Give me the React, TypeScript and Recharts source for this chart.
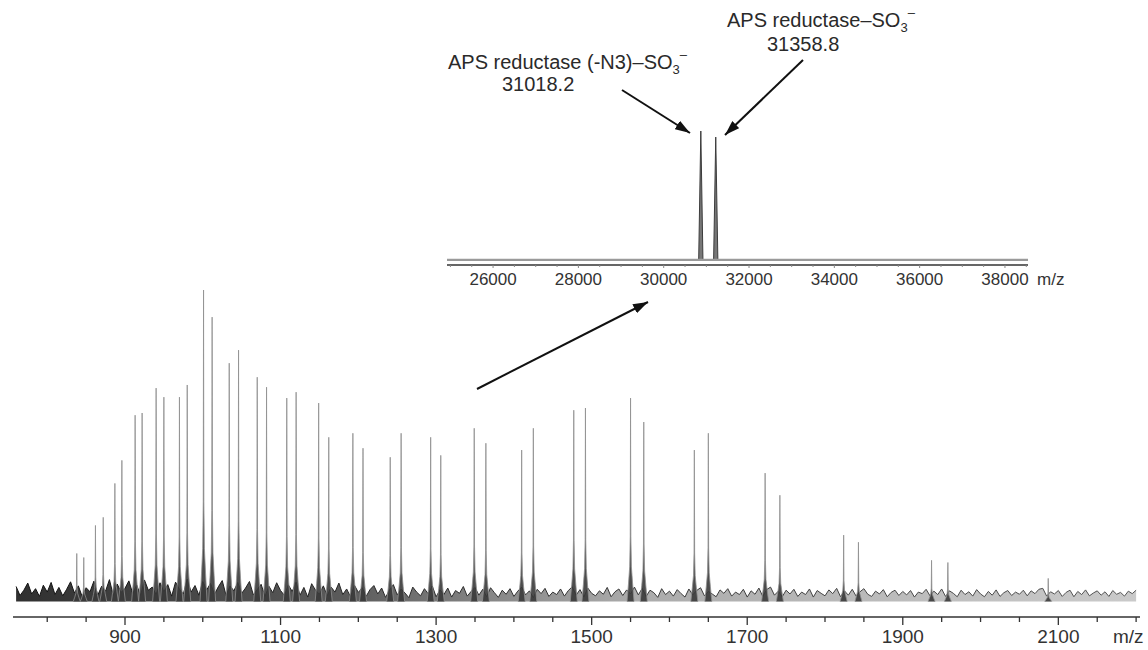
import React from 'react';
import { ComposedChart, Area, XAxis, YAxis, ReferenceLine } from 'recharts';

const font = '"Liberation Sans", Arial, sans-serif';

// ESI spectrum, baseline noise read every 5 m/z starting at 760
const noiseStart = 760;
const noiseStep = 5;
const noiseLevel = [
  4.8, 1.9, 3.6, 5.9, 2.4, 4.1, 1.6, 5.2, 3.0, 6.1,
  2.2, 4.5, 1.8, 3.9, 6.3, 2.7, 5.0, 1.5, 4.4, 3.1,
  6.5, 2.0, 4.9, 3.3, 7.0, 1.8, 5.6, 2.9, 4.2, 6.6,
  2.5, 5.3, 1.9, 6.9, 3.6, 4.6, 2.2, 6.0, 3.1, 5.4,
  1.7, 6.2, 3.9, 2.4, 7.2, 3.0, 5.1, 2.0, 6.4, 3.7,
  5.8, 2.3, 4.7, 6.7, 1.9, 5.0, 3.4, 6.1, 2.6, 4.3,
  6.4, 2.1, 3.8, 5.5, 1.6, 4.9, 2.8, 6.0, 3.5, 1.9,
  5.3, 3.2, 6.2, 2.0, 4.5, 1.4, 5.7, 3.6, 2.3, 5.0,
  1.8, 4.6, 3.0, 5.9, 2.2, 4.0, 1.5, 5.2, 2.9, 4.4,
  1.6, 3.8, 5.1, 2.4, 4.3, 1.3, 3.6, 5.4, 2.1, 4.0,
  2.7, 1.2, 4.6, 3.0, 1.8, 4.1, 2.4, 5.0, 1.5, 3.7,
  2.2, 4.3, 1.4, 3.5, 2.6, 4.8, 1.7, 3.2, 4.5, 2.0,
  3.9, 1.5, 4.4, 2.8, 1.3, 3.6, 2.3, 4.1, 1.6, 3.3,
  4.6, 2.1, 3.4, 1.2, 3.9, 2.5, 4.2, 1.6, 3.0, 2.2,
  4.0, 1.7, 3.5, 4.7, 2.0, 3.8, 1.4, 4.3, 2.6, 1.8,
  3.4, 2.3, 4.5, 1.5, 3.1, 4.0, 1.9, 3.7, 2.4, 4.6,
  2.1, 4.2, 1.6, 3.6, 2.8, 1.3, 4.1, 2.2, 3.3, 1.7,
  3.8, 2.5, 1.4, 4.0, 2.1, 3.5, 4.4, 1.8, 3.2, 2.4,
  1.5, 3.7, 2.6, 4.1, 1.7, 3.0, 2.2, 3.9, 1.4, 3.4,
  2.3, 4.3, 1.6, 3.8, 4.6, 2.0, 3.3, 1.5, 3.6, 2.4,
  3.9, 1.6, 3.0, 2.2, 4.0, 1.4, 3.5, 2.6, 1.8, 3.7,
  2.5, 4.2, 1.5, 3.4, 2.0, 3.9, 1.7, 3.1, 4.1, 2.3,
  1.6, 3.3, 2.4, 3.8, 1.5, 2.9, 3.6, 1.9, 3.2, 2.1,
  3.5, 1.4, 3.0, 2.5, 3.9, 1.8, 3.3, 2.2, 4.0, 1.6,
  3.4, 2.6, 1.5, 3.6, 2.2, 3.1, 1.7, 3.8, 2.4, 1.5,
  3.2, 2.0, 3.7, 1.6, 2.8, 3.5, 1.9, 3.0, 2.3, 3.6,
  1.8, 3.4, 2.5, 3.9, 4.2, 1.7, 3.1, 2.4, 3.5, 1.6,
  2.9, 3.6, 1.5, 3.2, 2.2, 3.7, 1.8, 2.7, 3.4, 2.0,
  3.1, 1.6, 3.5, 2.3, 2.9, 1.7, 3.3, 2.5, 3.6,
];

// charge-state peaks (m/z) and relative intensity (tallest = 100)
const peakMz = [
  838, 847, 862, 872, 887, 896, 913, 922, 940, 950,
  970, 980, 1001, 1012, 1034, 1046, 1070, 1082, 1108, 1120,
  1149, 1162, 1193, 1206, 1241, 1255, 1293, 1306, 1349, 1364,
  1410, 1425, 1477, 1492, 1550, 1567, 1632, 1650, 1723, 1742,
  1824, 1843, 1937, 1958, 2087,
];
const peakHeight = [
  15.4, 14.1, 24.4, 27, 37.9, 45.3, 59.8, 60.5, 68.5, 65.6,
  65.6, 69.5, 100, 91.3, 76.5, 80.7, 72, 68.8, 65.3, 67.2,
  63.7, 52.7, 54, 49.2, 46.3, 54, 52.7, 46.9, 55.6, 50.8,
  48.6, 55.6, 61.4, 62.1, 65.3, 57.6, 48.6, 54, 41.2, 34.1,
  21.3, 19, 13.2, 12.5, 7.4,
];

const mainTicks = [
  800, 850, 900, 950, 1000, 1050, 1100, 1150, 1200, 1250, 1300, 1350, 1400, 1450, 1500,
  1550, 1600, 1650, 1700, 1750, 1800, 1850, 1900, 1950, 2000, 2050, 2100, 2150, 2200,
];
const mainLabels = [900, 1100, 1300, 1500, 1700, 1900, 2100];

// deconvoluted inset
const insetMass = [30870, 31220];
const insetHeight = [100, 95.3];
const insetTicks = [
  25000, 25500, 26000, 26500, 27000, 27500, 28000, 28500, 29000, 29500, 30000, 30500, 31000, 31500,
  32000, 32500, 33000, 33500, 34000, 34500, 35000, 35500, 36000, 36500, 37000, 37500, 38000, 38500,
];
const insetLabels = [26000, 28000, 30000, 32000, 34000, 36000, 38000];

const noiseData = noiseLevel.map((v, i) => ({ mz: noiseStart + i * noiseStep, v }));

// each peak: narrow spike on a broader, darker foot
const peakData = peakMz.flatMap((m, i) => {
  const h = peakHeight[i];
  return [
    { mz: m - 4.5, v: 0 },
    { mz: m - 2.6, v: h * 0.09 },
    { mz: m - 1.1, v: h * 0.17 },
    { mz: m - 0.4, v: h * 0.32 },
    { mz: m, v: h },
    { mz: m + 0.4, v: h * 0.32 },
    { mz: m + 1.1, v: h * 0.17 },
    { mz: m + 2.6, v: h * 0.09 },
    { mz: m + 4.5, v: 0 },
    { mz: m + 4.51, v: null },
  ];
});

const insetData = insetMass.flatMap((m, i) => [
  { mz: m - 50, v: 0 },
  { mz: m, v: insetHeight[i] },
  { mz: m + 50, v: 0 },
  { mz: m + 51, v: null },
]);

const MainTick = (props: any) => {
  const { x, y, payload } = props;
  const major = mainLabels.includes(payload.value);
  return (
    <g>
      <line x1={x} x2={x} y1={y} y2={y + (major ? 8 : 5)} stroke="#333" strokeWidth={1.3} />
      {major && (
        <text x={x} y={y + 26} textAnchor="middle" fontSize={19} fill="#333" fontFamily={font}>
          {payload.value}
        </text>
      )}
    </g>
  );
};

const InsetTick = (props: any) => {
  const { x, y, payload } = props;
  const major = insetLabels.includes(payload.value);
  return (
    <g>
      <line x1={x} x2={x} y1={y} y2={y + (major ? 3 : 2)} stroke="#888" strokeWidth={1} />
      {major && (
        <text x={x} y={y + 20} textAnchor="middle" fontSize={17} fill="#333" fontFamily={font}>
          {payload.value}
        </text>
      )}
    </g>
  );
};

const layer: React.CSSProperties = { position: 'absolute', left: 0, top: 0 };

export default function App() {
  return (
    <div style={{ position: 'absolute', left: 0, top: 0, width: 1148, height: 650, background: '#fff' }}>
      <div style={layer}>
        <ComposedChart width={1148} height={650} margin={{ top: 290, right: 8, bottom: 3, left: 13 }}>
          <defs>
            <linearGradient id="noiseFill" x1="0" y1="0" x2="1" y2="0">
              <stop offset="0%" stopColor="#1e1e1e" stopOpacity={0.92} />
              <stop offset="30%" stopColor="#333" stopOpacity={0.8} />
              <stop offset="55%" stopColor="#666" stopOpacity={0.55} />
              <stop offset="100%" stopColor="#888" stopOpacity={0.45} />
            </linearGradient>
            <linearGradient id="noiseStroke" x1="0" y1="0" x2="1" y2="0">
              <stop offset="0%" stopColor="#111" />
              <stop offset="35%" stopColor="#2a2a2a" />
              <stop offset="100%" stopColor="#555" />
            </linearGradient>
          </defs>
          <XAxis
            type="number"
            dataKey="mz"
            domain={[756, 2205]}
            allowDataOverflow
            ticks={mainTicks}
            interval={0}
            tick={<MainTick />}
            tickLine={false}
            tickSize={0}
            tickMargin={0}
            height={30}
            axisLine={{ stroke: '#333', strokeWidth: 1.5 }}
          />
          <YAxis hide width={0} type="number" domain={[-5, 100]} allowDataOverflow />
          <Area
            data={noiseData}
            dataKey="v"
            type="linear"
            fill="url(#noiseFill)"
            fillOpacity={1}
            stroke="url(#noiseStroke)"
            strokeWidth={1}
            isAnimationActive={false}
            dot={false}
            activeDot={false}
          />
          <Area
            data={peakData}
            dataKey="v"
            type="linear"
            fill="#3a3a3a"
            fillOpacity={0.9}
            stroke="#8f8f8f"
            strokeWidth={0.8}
            isAnimationActive={false}
            dot={false}
            activeDot={false}
          />
        </ComposedChart>
      </div>

      <div style={layer}>
        <ComposedChart width={1148} height={650} margin={{ top: 131, right: 120, bottom: 355, left: 447 }}>
          <XAxis
            type="number"
            dataKey="mz"
            domain={[24920, 38540]}
            allowDataOverflow
            ticks={insetTicks}
            interval={0}
            tick={<InsetTick />}
            tickLine={false}
            tickSize={0}
            tickMargin={0}
            height={30}
            axisLine={{ stroke: '#333', strokeWidth: 1.3 }}
          />
          <YAxis hide width={0} type="number" domain={[-3.9, 100]} allowDataOverflow />
          <ReferenceLine y={0} stroke="#9a9a9a" strokeWidth={2.2} />
          <Area
            data={insetData}
            dataKey="v"
            type="linear"
            fill="#777"
            fillOpacity={1}
            stroke="#3c3c3c"
            strokeWidth={1}
            isAnimationActive={false}
            dot={false}
            activeDot={false}
          />
        </ComposedChart>
      </div>

      <svg width={1148} height={650} style={{ ...layer, pointerEvents: 'none' }}>
        <defs>
          <marker id="head" markerWidth="15" markerHeight="10" refX="15" refY="5" orient="auto" markerUnits="userSpaceOnUse">
            <path d="M0,0 L15,5 L0,10 z" fill="#111" />
          </marker>
        </defs>
        <g fontFamily={font} fill="#2a2a2a" fontSize={20}>
          <text x={448} y={69}>
            APS reductase (-N3)–SO
            <tspan fontSize={13} dy={5}>3</tspan>
            <tspan fontSize={13} dy={-15}>–</tspan>
          </text>
          <text x={502} y={91}>31018.2</text>
          <text x={727} y={27}>
            APS reductase–SO
            <tspan fontSize={13} dy={5}>3</tspan>
            <tspan fontSize={13} dy={-15}>–</tspan>
          </text>
          <text x={767} y={51}>31358.8</text>
          <text x={1113} y={643} fontSize={19} fill="#333">m/z</text>
          <text x={1037} y={285} fontSize={17} fill="#333">m/z</text>
        </g>
        <g stroke="#111" strokeWidth={2}>
          <line x1={622} y1={90} x2={690} y2={133} markerEnd="url(#head)" />
          <line x1={803} y1={60} x2={725} y2={135} markerEnd="url(#head)" />
          <line x1={477} y1={389} x2={648} y2={302} markerEnd="url(#head)" />
        </g>
      </svg>
    </div>
  );
}
